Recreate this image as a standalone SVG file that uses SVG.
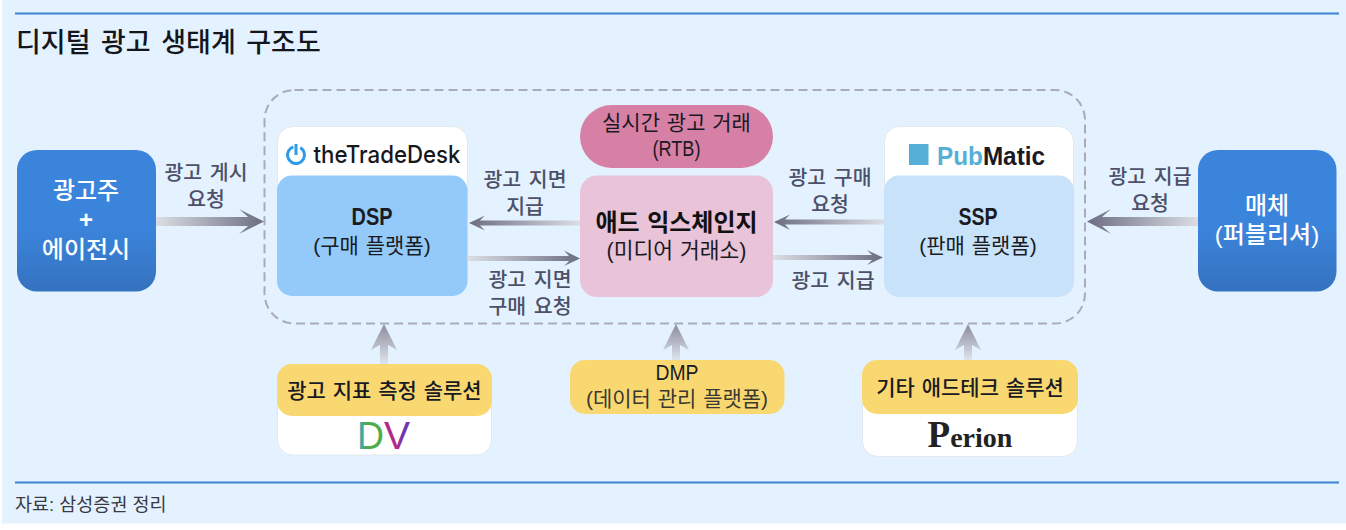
<svg xmlns="http://www.w3.org/2000/svg" width="1346" height="530" viewBox="0 0 1346 530">
<style>
text{font-family:"Liberation Sans","Noto Sans CJK KR",sans-serif;text-anchor:middle;fill:#1a1a22}
.w{fill:#fff;font-weight:500;font-size:24px}
.lb{fill:#4d5068;font-weight:500;font-size:20.5px;word-spacing:2px}
.h{font-weight:700;font-size:24px}
.s{font-size:21px;word-spacing:1px}
.card{fill:#fff;stroke:#e3e8ee;stroke-width:1}
</style>
<defs>
<linearGradient id="blue" x1="0" y1="0" x2="0" y2="1"><stop offset="0.55" stop-color="#3b84db"/><stop offset="1" stop-color="#3572bf"/></linearGradient>
<linearGradient id="gR" x1="0" y1="0" x2="1" y2="0"><stop offset="0" stop-color="#dcdee4"/><stop offset="1" stop-color="#6c6d82"/></linearGradient>
<linearGradient id="gL" x1="1" y1="0" x2="0" y2="0"><stop offset="0" stop-color="#dcdee4"/><stop offset="1" stop-color="#6c6d82"/></linearGradient>
<linearGradient id="gU" x1="0" y1="1" x2="0" y2="0"><stop offset="0" stop-color="#dfe4ec"/><stop offset="1" stop-color="#8b8c9c"/></linearGradient>
<linearGradient id="dv1" gradientUnits="userSpaceOnUse" x1="357" y1="0" x2="384" y2="0"><stop offset="0.2" stop-color="#3fa99e"/><stop offset="0.35" stop-color="#4cae4a"/></linearGradient>
<linearGradient id="dv2" gradientUnits="userSpaceOnUse" x1="384" y1="0" x2="410" y2="0"><stop offset="0.6" stop-color="#b02a8c"/><stop offset="0.65" stop-color="#6f35b0"/></linearGradient>
</defs>
<rect x="2" y="0" width="1344" height="523.500" fill="#e3f2fe"/>
<rect x="15" y="12.500" width="1324" height="2" fill="#3d82cf"/>
<rect x="15" y="481.500" width="1324" height="2" fill="#3d82cf"/>
<text x="16" y="52" style="text-anchor:start;font-size:27px;font-weight:500;word-spacing:3px;fill:#15151c">디지털 광고 생태계 구조도</text>
<text x="15" y="511" style="text-anchor:start;font-size:18.500px;fill:#3a3a44">자료: 삼성증권 정리</text>
<rect id="ecosystem-boundary" x="264.500" y="90" width="820.500" height="233.500" rx="30" fill="none" stroke="#a9abbb" stroke-width="2" stroke-dasharray="9 5"/>
<g id="connectors">
<polygon fill="url(#gR)" points="156,217 248,217 239,209 264,221.500 239,234 248,226 156,226"/>
<polygon fill="url(#gL)" points="1198,217 1102,217 1111,209 1087,221.500 1111,234 1102,226 1198,226"/>
<polygon fill="url(#gL)" points="580,220.500 480,220.500 485,215.500 469,223 485,230.500 480,225.500 580,225.500"/>
<polygon fill="url(#gR)" points="468,256 569,256 564,250.500 580,258.500 564,266 569,261 468,261"/>
<polygon fill="url(#gL)" points="884,219.500 785,219.500 790,214.500 774,222 790,230 785,224.500 884,224.500"/>
<polygon fill="url(#gR)" points="773,255 872,255 867,250 883,257.500 867,265 872,260 773,260"/>
<polygon fill="url(#gU)" points="380,364 380,345 371,350 384,324 397,350 388,345 388,364"/>
<polygon fill="url(#gU)" points="672,360 672,345 663,350 676,324 689,350 680,345 680,360"/>
<polygon fill="url(#gU)" points="964,360 964,345 955,350 968,324 981,350 972,345 972,360"/>
</g>
<g id="advertiser">
<rect x="17" y="150" width="139" height="141.500" rx="20" fill="url(#blue)"/>
<text class="w" x="86" y="199">광고주</text><text class="w" x="86" y="228" style="font-weight:700">+</text><text class="w" x="86" y="258">에이전시</text>
</g>
<g id="publisher">
<rect x="1198" y="150" width="138.500" height="141.500" rx="20" fill="url(#blue)"/>
<text class="w" x="1267" y="214">매체</text><text class="w" x="1267" y="243">(퍼블리셔)</text>
</g>
<g id="dsp">
<rect class="card" x="277.500" y="126.500" width="190" height="100" rx="15"/>
<circle cx="296" cy="155" r="8.500" fill="none" stroke="#2f9be8" stroke-width="3" stroke-dasharray="46 8" transform="rotate(-60 296 155)"/>
<rect x="294.500" y="144" width="3" height="11" fill="#2f9be8"/>
<text x="387" y="163" textLength="147" lengthAdjust="spacingAndGlyphs" style="font-family:Inter,sans-serif;font-weight:500;font-size:24px;fill:#17171c">theTradeDesk</text>
<rect x="277" y="175.500" width="190.500" height="120.500" rx="15" fill="#94caf9"/>
<text class="h" x="372" y="225" textLength="41" lengthAdjust="spacingAndGlyphs">DSP</text><text class="s" x="372" y="253">(구매 플랫폼)</text>
</g>
<g id="rtb">
<rect x="580" y="105" width="193" height="63" rx="31.500" fill="#d680a6"/>
<text class="s" x="676.500" y="130">실시간 광고 거래</text><text class="s" x="676.500" y="156" textLength="48" lengthAdjust="spacingAndGlyphs" style="font-size:22px">(RTB)</text>
</g>
<g id="exchange">
<rect x="580" y="175.500" width="193" height="121.500" rx="17" fill="#e9c3d7"/>
<text x="676.500" y="231" style="font-weight:700;font-size:24px;word-spacing:1px;fill:#111">애드 익스체인지</text><text class="s" x="676.500" y="258" style="font-size:21.500px">(미디어 거래소)</text>
</g>
<g id="ssp">
<rect class="card" x="884.500" y="126.500" width="189" height="100" rx="15"/>
<rect x="909" y="144" width="19.500" height="21" fill="#55afd6"/>
<text x="937" y="165" textLength="108" lengthAdjust="spacingAndGlyphs" style="text-anchor:start;font-family:'Liberation Sans',sans-serif;font-weight:700;font-size:26px"><tspan fill="#55afd6">Pub</tspan>Matic</text>
<rect x="884" y="175.500" width="190" height="121.500" rx="15" fill="#c8e3f9"/>
<text class="h" x="978" y="225" textLength="39" lengthAdjust="spacingAndGlyphs">SSP</text><text class="s" x="978" y="253">(판매 플랫폼)</text>
</g>
<g id="metrics">
<rect class="card" x="277.500" y="390" width="214" height="65" rx="15"/>
<text x="357" y="449" textLength="27" lengthAdjust="spacingAndGlyphs" style="text-anchor:start;font-family:'Liberation Sans',sans-serif;font-size:39px;fill:url(#dv1)">D</text>
<text x="384" y="449" textLength="26" lengthAdjust="spacingAndGlyphs" style="text-anchor:start;font-family:'Liberation Sans',sans-serif;font-size:39px;fill:url(#dv2)">V</text>
<rect x="277" y="364" width="215" height="52" rx="15" fill="#f9d871"/>
<text class="s" x="384.500" y="398" style="font-weight:500">광고 지표 측정 솔루션</text>
</g>
<g id="dmp">
<rect x="570" y="360" width="214.500" height="54" rx="15" fill="#f9d871"/>
<text class="s" x="677" y="380" textLength="43" lengthAdjust="spacingAndGlyphs" style="font-size:22px">DMP</text><text class="s" x="677" y="406" style="fill:#3a3a30">(데이터 관리 플랫폼)</text>
</g>
<g id="adtech">
<rect class="card" x="862.500" y="390" width="215" height="66.500" rx="15"/>
<text x="970" y="447" style="font-family:'Liberation Serif',serif;font-weight:700;font-size:28px;fill:#222"><tspan font-size="37">P</tspan>erion</text>
<rect x="862" y="360" width="216" height="54" rx="15" fill="#f9d871"/>
<text class="s" x="970" y="395" style="font-weight:500">기타 애드테크 솔루션</text>
</g>
<g id="labels">
<text class="lb" x="206" y="180">광고 게시</text><text class="lb" x="206" y="207">요청</text>
<text class="lb" x="525" y="187">광고 지면</text><text class="lb" x="525" y="214">지급</text>
<text class="lb" x="530" y="287">광고 지면</text><text class="lb" x="530" y="314">구매 요청</text>
<text class="lb" x="830" y="185">광고 구매</text><text class="lb" x="830" y="212">요청</text>
<text class="lb" x="833" y="288">광고 지급</text>
<text class="lb" x="1150" y="184">광고 지급</text><text class="lb" x="1150" y="211">요청</text>
</g>
</svg>
